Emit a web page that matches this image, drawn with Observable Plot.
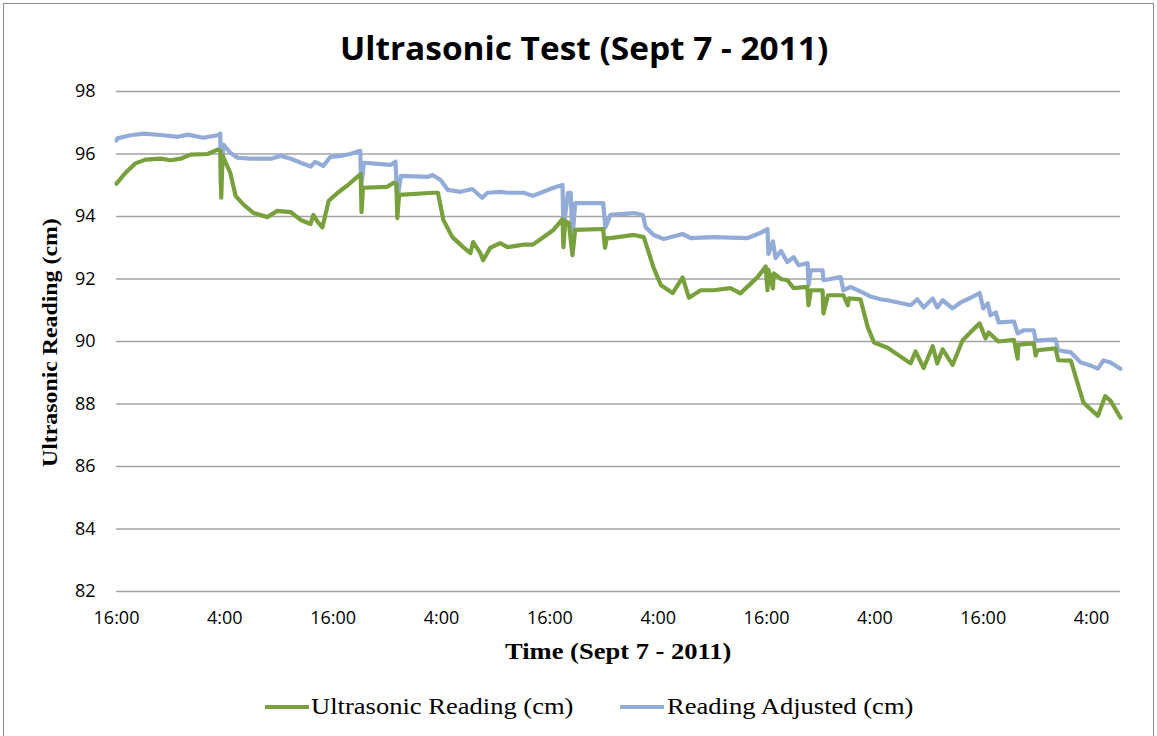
<!DOCTYPE html>
<html>
<head>
<meta charset="utf-8">
<script src="https://cdn.jsdelivr.net/npm/d3@7"></script>
<script src="https://cdn.jsdelivr.net/npm/@observablehq/plot@0.6"></script>
<style>
  html, body { margin: 0; padding: 0; background: #fff; }
  #wrap { position: relative; width: 1157px; height: 736px; overflow: hidden; background: #fff; }
  #frame { position: absolute; left: 3px; top: 3px; width: 1151px; height: 740px; border: 1.5px solid #8c8c8c; box-sizing: border-box; }
  .lbl { position: absolute; white-space: nowrap; line-height: 1; transform-origin: 0 0; color: #000; }
  .sans { font-family: "Open Sans", "Noto Sans", sans-serif; }
  .serif { font-family: "Liberation Serif", "DejaVu Serif", serif; }
  .bold { font-weight: 700; }
  .sw { position: absolute; height: 4px; }
</style>
</head>
<body>
<div id="wrap">
  <div id="chart"></div>
  <div id="frame"></div>
</div>
<script>
// ---- data (hours since 16:00 on Sept 7, 2011) ----
const tickHours = [0, 12, 24, 36, 48, 60, 72, 84, 96, 108];
const tickLabels = ["16:00", "4:00", "16:00", "4:00", "16:00", "4:00", "16:00", "4:00", "16:00", "4:00"];
const yTicks = [82, 84, 86, 88, 90, 92, 94, 96, 98];

const seriesNames = ["Ultrasonic Reading (cm)", "Reading Adjusted (cm)"];
const seriesColors = ["#78a03c", "#93abd7"];

const readingHours = [0, 1.0, 2.1, 3.2, 4.9, 6.0, 7.1, 8.2, 10.1, 11.2, 11.5, 11.6, 11.75, 12.6, 13.2, 14.1, 15.2, 16.7, 17.8, 19.3, 20.4, 21.5, 21.8, 22.3, 22.8, 23.5, 24.5, 25.6, 26.8, 27.05, 27.14, 27.3, 30.0, 30.7, 31.0, 31.1, 31.3, 35.1, 35.6, 36.2, 37.2, 38.4, 39.2, 39.5, 40.3, 40.6, 41.4, 42.5, 43.3, 45.1, 46.1, 47.0, 48.4, 49.4, 49.5, 49.7, 50.1, 50.5, 50.8, 53.9, 54.1, 54.3, 54.7, 57.3, 58.4, 59.5, 60.3, 61.6, 62.7, 63.4, 64.7, 66.1, 68.0, 69.1, 71.0, 71.9, 72.1, 72.2, 72.7, 72.8, 73.6, 74.3, 75.0, 76.5, 76.65, 76.9, 78.2, 78.3, 78.8, 80.5, 81.0, 81.1, 82.4, 83.2, 83.9, 85.4, 87.95, 88.5, 89.4, 90.4, 90.9, 91.5, 92.6, 93.7, 94.6, 95.6, 96.25, 96.6, 97.4, 97.7, 99.4, 99.8, 99.9, 101.6, 101.8, 102.0, 104.0, 104.3, 105.7, 106.6, 107.1, 108.7, 109.5, 110.1, 111.2];
const readingValues = [95.05, 95.4, 95.7, 95.82, 95.85, 95.8, 95.85, 95.98, 96.0, 96.14, 96.1, 94.6, 95.95, 95.4, 94.65, 94.37, 94.11, 93.98, 94.18, 94.14, 93.89, 93.76, 94.05, 93.82, 93.65, 94.5, 94.76, 95.0, 95.3, 95.35, 94.14, 94.92, 94.95, 95.08, 95.05, 93.95, 94.69, 94.76, 94.76, 93.89, 93.34, 93.02, 92.83, 93.18, 92.83, 92.6, 93.0, 93.15, 93.02, 93.1, 93.1, 93.28, 93.57, 93.92, 93.02, 93.85, 93.79, 92.76, 93.57, 93.6, 93.0, 93.31, 93.31, 93.41, 93.34, 92.35, 91.8, 91.55, 92.05, 91.4, 91.64, 91.64, 91.71, 91.54, 92.06, 92.4, 91.64, 92.3, 91.7, 92.18, 92.0, 91.96, 91.71, 91.75, 91.16, 91.64, 91.64, 90.9, 91.48, 91.48, 91.16, 91.38, 91.35, 90.46, 89.97, 89.8, 89.3, 89.68, 89.15, 89.85, 89.3, 89.75, 89.25, 90.03, 90.3, 90.58, 90.1, 90.29, 90.07, 90.0, 90.05, 89.45, 89.9, 89.94, 89.55, 89.72, 89.78, 89.4, 89.39, 88.52, 88.04, 87.62, 88.25, 88.1, 87.56];

const adjustedHours = [0, 0.1, 1.55, 3.0, 5.2, 6.8, 7.9, 9.6, 11.2, 11.5, 11.55, 11.85, 12.6, 13.4, 14.8, 17.1, 18.2, 19.3, 20.4, 21.5, 22.0, 22.9, 23.7, 24.8, 25.9, 27.0, 27.1, 27.4, 30.35, 30.9, 31.1, 31.5, 34.5, 35.0, 35.9, 36.7, 38.1, 39.4, 40.5, 41.1, 42.5, 43.3, 45.1, 46.1, 47.0, 48.4, 49.4, 49.5, 50.0, 50.3, 50.5, 50.8, 53.9, 54.15, 54.7, 57.3, 58.3, 58.6, 59.5, 60.6, 62.7, 63.6, 66.1, 69.9, 71.3, 72.1, 72.2, 72.7, 73.0, 73.6, 74.3, 75.0, 75.55, 76.55, 76.65, 76.9, 78.2, 78.3, 80.2, 80.5, 81.3, 82.6, 83.5, 84.6, 85.4, 87.95, 88.7, 89.4, 90.4, 90.9, 91.5, 92.6, 93.5, 94.6, 95.6, 96.0, 96.5, 96.8, 97.4, 97.7, 99.4, 99.8, 100.5, 101.6, 101.8, 104.0, 104.3, 105.7, 106.8, 107.9, 108.7, 109.3, 110.1, 111.2];
const adjustedValues = [96.43, 96.5, 96.6, 96.65, 96.6, 96.55, 96.62, 96.52, 96.6, 96.65, 95.0, 96.3, 96.04, 95.88, 95.85, 95.85, 95.94, 95.85, 95.72, 95.6, 95.75, 95.62, 95.91, 95.94, 96.0, 96.1, 94.92, 95.72, 95.65, 95.75, 94.53, 95.3, 95.27, 95.33, 95.17, 94.85, 94.79, 94.88, 94.6, 94.76, 94.79, 94.76, 94.76, 94.66, 94.76, 94.92, 95.01, 93.57, 94.76, 94.76, 93.3, 94.43, 94.43, 93.65, 94.05, 94.11, 94.05, 93.66, 93.41, 93.28, 93.44, 93.31, 93.34, 93.31, 93.47, 93.6, 92.8, 93.2, 92.67, 92.9, 92.54, 92.7, 92.44, 92.51, 91.8, 92.28, 92.28, 91.96, 92.06, 91.64, 91.75, 91.57, 91.44, 91.35, 91.32, 91.16, 91.35, 91.09, 91.38, 91.09, 91.32, 91.06, 91.25, 91.4, 91.55, 91.06, 91.22, 90.84, 90.93, 90.61, 90.64, 90.26, 90.36, 90.36, 90.03, 90.07, 89.72, 89.65, 89.33, 89.23, 89.13, 89.39, 89.33, 89.13];

const reading = readingHours.map((h, i) => ({h, v: readingValues[i]}));
const adjusted = adjustedHours.map((h, i) => ({h, v: adjustedValues[i]}));

const tickFont = '"Open Sans", "Noto Sans", sans-serif';

const chart = Plot.plot({
  width: 1157,
  height: 736,
  marginLeft: 116,
  marginRight: 37,
  marginTop: 91,
  marginBottom: 145,
  style: {fontFamily: tickFont, fontSize: "18px", background: "transparent", overflow: "visible"},
  x: {domain: [0, 111.2]},
  y: {domain: [82, 98]},
  marks: [
    Plot.gridY(yTicks, {stroke: "#a3a3a3", strokeOpacity: 1, strokeWidth: 1.6}),
    Plot.axisY(yTicks, {tickSize: 0, tickPadding: 21, label: null, fontSize: 18, fill: "#000"}),
    Plot.axisX(tickHours, {tickSize: 0, tickPadding: 20, label: null, fontSize: 18, fill: "#000",
      tickFormat: (d) => tickLabels[tickHours.indexOf(d)]}),
    Plot.line(adjusted, {x: "h", y: "v", stroke: seriesColors[1], strokeWidth: 4.2, strokeLinejoin: "round"}),
    Plot.line(reading, {x: "h", y: "v", stroke: seriesColors[0], strokeWidth: 4.2, strokeLinejoin: "round"})
  ]
});
document.getElementById("chart").appendChild(chart);

const wrap = document.getElementById("wrap");
function styled(text, cls, cx, cy, targetW, size, rotate) {
  const el = document.createElement("div");
  el.className = "lbl " + cls;
  el.style.fontSize = size + "px";
  el.textContent = text;
  wrap.appendChild(el);
  const w = el.offsetWidth, hgt = el.offsetHeight, s = targetW / w;
  if (rotate) {
    el.style.left = (cx - hgt / 2) + "px";
    el.style.top = (cy + w * s / 2) + "px";
    el.style.transform = `rotate(-90deg) scaleX(${s})`;
  } else {
    el.style.left = (cx - w * s / 2) + "px";
    el.style.top = (cy - hgt / 2) + "px";
    el.style.transform = `scaleX(${s})`;
  }
  return el;
}
styled("Ultrasonic Test (Sept 7 - 2011)", "sans bold", 584, 47, 488, 33, false);
styled("Ultrasonic Reading (cm)", "serif bold", 50, 342, 249, 22, true);
styled("Time (Sept 7 - 2011)", "serif bold", 618, 651, 226, 23, false);

// legend
function swatch(x0, x1, y, color) {
  const d = document.createElement("div");
  d.className = "sw";
  d.style.left = x0 + "px";
  d.style.width = (x1 - x0) + "px";
  d.style.top = (y - 2) + "px";
  d.style.background = color;
  wrap.appendChild(d);
}
swatch(265, 309, 707, seriesColors[0]);
styled(seriesNames[0], "serif", 442, 706, 262, 23, false);
swatch(620, 664, 707, seriesColors[1]);
styled(seriesNames[1], "serif", 790, 706, 246, 23, false);
</script>
</body>
</html>
